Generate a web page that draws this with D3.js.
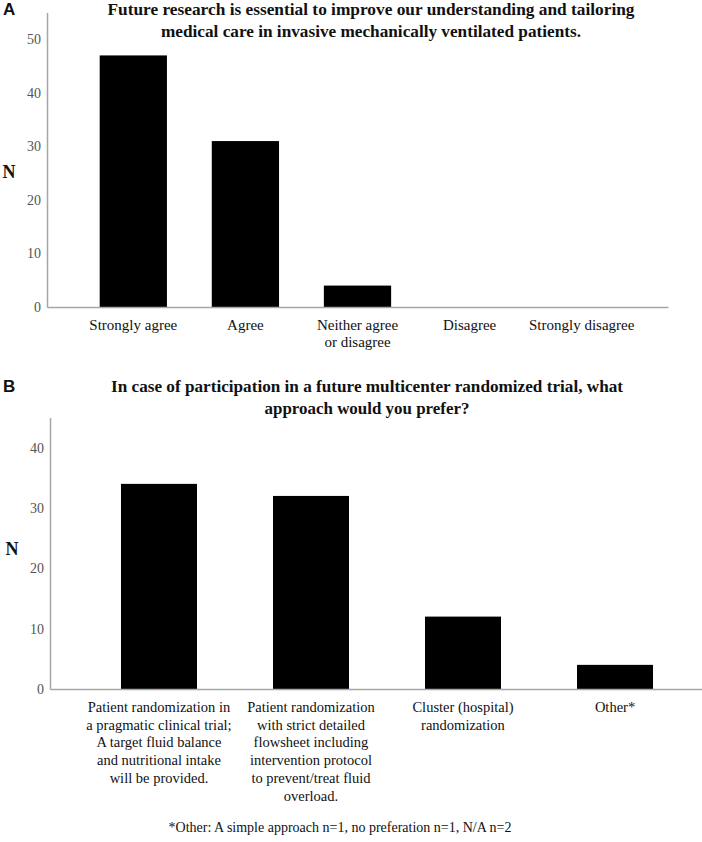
<!DOCTYPE html>
<html>
<head>
<meta charset="utf-8">
<script src="https://cdn.jsdelivr.net/npm/d3@7"></script>
<style>
  html, body { margin: 0; padding: 0; background: #fff; }
  svg { display: block; }
</style>
</head>
<body>
<svg id="chart" width="702" height="842"></svg>
<script>
// ---------- Data ----------
const titleA = ["Future research is essential to improve our understanding and tailoring",
                "medical care in invasive mechanically ventilated patients."];
const catsA = ["Strongly agree", "Agree", "Neither agree or disagree", "Disagree", "Strongly disagree"];
const labelLinesA = [["Strongly agree"], ["Agree"], ["Neither agree", "or disagree"], ["Disagree"], ["Strongly disagree"]];
const valsA = [47, 31, 4, 0, 0];
const ticksA = [0, 10, 20, 30, 40, 50];

const titleB = ["In case of participation in a future multicenter randomized trial, what",
                "approach would you prefer?"];
const catsB = ["Pragmatic", "Strict flowsheet", "Cluster", "Other"];
const labelLinesB = [
  ["Patient randomization in", "a pragmatic clinical trial;", "A target fluid balance", "and nutritional intake", "will be provided."],
  ["Patient randomization", "with strict detailed", "flowsheet including", "intervention protocol", "to prevent/treat fluid", "overload."],
  ["Cluster (hospital)", "randomization"],
  ["Other*"]
];
const valsB = [34, 32, 12, 4];
const ticksB = [0, 10, 20, 30, 40];
const footnote = "*Other: A simple approach n=1, no preferation n=1, N/A n=2";

// ---------- Drawing ----------
const svg = d3.select("#chart");
const serif = "'Liberation Serif', 'Times New Roman', serif";
const sans = "'Liberation Sans', Arial, sans-serif";
const axisColor = "#a6a6a6";

function panel(cfg) {
  const g = svg.append("g");
  const x = d3.scaleBand().domain(cfg.cats).range(cfg.xRange)
    .paddingInner(cfg.pi).paddingOuter(cfg.po);
  const y = d3.scaleLinear().domain(cfg.yDomain).range(cfg.yRange);

  // panel letter
  g.append("text").attr("x", 3).attr("y", cfg.titleY)
    .attr("font-family", sans).attr("font-weight", "bold").attr("font-size", 17)
    .attr("fill", "#111").text(cfg.letter);

  // title
  cfg.title.forEach((t, i) => {
    const tt = g.append("text").attr("x", cfg.titleX).attr("y", cfg.titleY + i * cfg.titleLH)
      .attr("text-anchor", "middle").attr("font-family", serif).attr("font-weight", "bold")
      .attr("font-size", 17).attr("fill", "#111").text(t);
    if (cfg.titleLen[i]) tt.attr("textLength", cfg.titleLen[i]).attr("lengthAdjust", "spacingAndGlyphs");
  });

  // bars
  g.selectAll("rect.bar").data(cfg.vals).join("rect")
    .attr("class", "bar")
    .attr("x", (d, i) => x(cfg.cats[i]))
    .attr("width", x.bandwidth())
    .attr("y", d => y(d))
    .attr("height", d => y(0) - y(d))
    .attr("fill", "#000");

  // y axis
  const ya = g.append("g").attr("transform", `translate(${cfg.xRange[0]},0)`)
    .call(d3.axisLeft(y).tickValues(cfg.ticks).tickSize(0).tickPadding(6));
  ya.attr("font-family", serif).attr("font-size", 14);
  ya.select(".domain").attr("stroke", axisColor).attr("stroke-width", 1.5);
  ya.selectAll(".tick text").attr("font-family", serif).attr("font-size", 14).attr("fill", "#555");

  // x axis line
  const xa = g.append("g").attr("transform", `translate(0,${y(0)})`)
    .call(d3.axisBottom(x).tickSize(0).tickFormat(""));
  xa.select(".domain").attr("stroke", axisColor).attr("stroke-width", 1.5);

  // x labels
  cfg.cats.forEach((c, i) => {
    const t = g.append("text").attr("text-anchor", "middle")
      .attr("font-family", serif).attr("font-size", cfg.labelSize).attr("fill", "#111");
    cfg.labelLines[i].forEach((ln, j) => {
      t.append("tspan").attr("x", x(c) + x.bandwidth() / 2)
        .attr("y", cfg.labelY + j * cfg.labelLH).text(ln);
    });
  });

  // y label
  g.append("text").attr("x", cfg.nX).attr("y", cfg.nY).attr("text-anchor", "middle")
    .attr("font-family", serif).attr("font-weight", "bold").attr("font-size", 18)
    .attr("fill", "#111").text("N");
}

panel({
  letter: "A", title: titleA, titleX: 371, titleY: 15, titleLH: 22, titleLen: [527, 420],
  cats: catsA, vals: valsA, ticks: ticksA, labelLines: labelLinesA,
  xRange: [47, 668], pi: 0.4, po: 0.47,
  yDomain: [0, 55], yRange: [307, 12.6],
  labelY: 330, labelLH: 17, labelSize: 15,
  nX: 9, nY: 178
});

panel({
  letter: "B", title: titleB, titleX: 367, titleY: 392, titleLH: 21.5, titleLen: [512, 205],
  cats: catsB, vals: valsB, ticks: ticksB, labelLines: labelLinesB,
  xRange: [50, 724], pi: 0.5, po: 0.467,
  yDomain: [0, 45], yRange: [689, 417.5],
  labelY: 712, labelLH: 17.7, labelSize: 14.5,
  nX: 12, nY: 555
});

svg.append("text").attr("x", 340).attr("y", 832).attr("text-anchor", "middle")
  .attr("font-family", serif).attr("font-size", 14).attr("fill", "#111").text(footnote);
</script>
</body>
</html>
